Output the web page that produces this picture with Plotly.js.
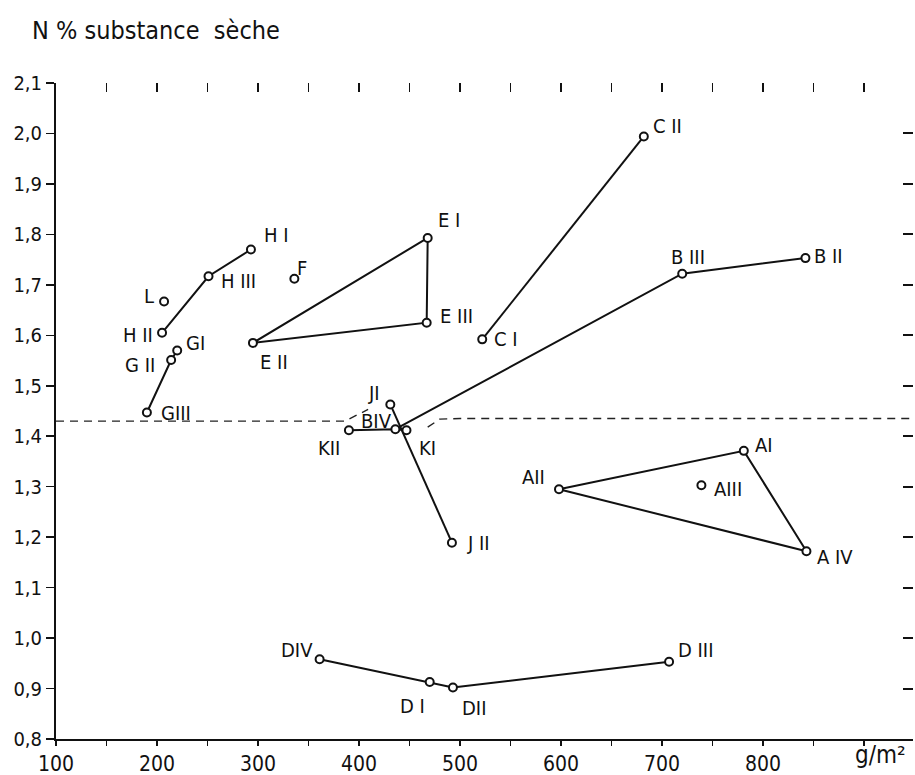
<!DOCTYPE html>
<html>
<head>
<meta charset="utf-8">
<script src="https://cdn.plot.ly/plotly-3.0.1.min.js"></script>
<style>html,body{margin:0;padding:0;background:#fff;}#chart{width:915px;height:775px;}</style>
</head>
<body>
<div id="chart"></div>
<script>
// ---- data ----
const pointNames  = ['AI','AII','AIII','AIV','BII','BIII','BIV','CI','CII','DI','DII','DIII','DIV','EI','EII','EIII','F','GI','GII','GIII','HI','HII','HIII','JI','JII','KI','KII','L'];
const pointLabels = ['AI','AII','AIII','A IV','B II','B III','BIV','C I','C II','D I','DII','D III','DIV','E I','E II','E III','F','GI','G II','GIII','H I','H II','H III','JI','J II','KI','KII','L'];
const pointX = [781, 598, 739, 843, 842, 720, 436, 522, 682, 470, 493, 707, 361, 468, 295, 467, 336, 220, 214, 190, 293, 205, 251, 431, 492, 447, 390, 207];
const pointY = [1.371, 1.295, 1.303, 1.172, 1.753, 1.722, 1.414, 1.592, 1.994, 0.913, 0.902, 0.953, 0.958, 1.793, 1.585, 1.625, 1.712, 1.570, 1.551, 1.447, 1.770, 1.605, 1.717, 1.463, 1.189, 1.412, 1.412, 1.667];

// connected series (by point name)
const pathA = ['AII','AI','AIV','AII'];
const pathB = ['BIV','BIII','BII'];
const pathC = ['CI','CII'];
const pathD = ['DIV','DI','DII','DIII'];
const pathE = ['EII','EI','EIII','EII'];
const pathG = ['GIII','GII','GI'];
const pathH = ['HII','HIII','HI'];
const pathJ = ['JI','JII'];
const pathK = ['KII','BIV','KI'];

// dashed reference line
const dashX = [100, 386, 409, null, 468, 480, 500, 948];
const dashY = [1.430, 1.430, 1.453, null, 1.418, 1.434, 1.435, 1.435];

// axis ticks
const xTickVals = [100,150,200,250,300,350,400,450,500,550,600,650,700,750,800,850,900];
const xTickText = ['100','','200','','300','','400','','500','','600','','700','','800','',''];
const yTickVals = [0.8,0.9,1.0,1.1,1.2,1.3,1.4,1.5,1.6,1.7,1.8,1.9,2.0,2.1];
const yTickText = ['0,8','0,9','1,0','1,1','1,2','1,3','1,4','1,5','1,6','1,7','1,8','1,9','2,0','2,1'];
const topTickVals = [150,200,250,300,350,400,450,500,550,600,650,700,750,800,850,900];
const rightTickVals = [0.9,1.0,1.1,1.2,1.3,1.4,1.5,1.6,1.7,1.8,1.9,2.0];

// ---- styling (label offsets in pixels, [dx, dy up]) ----
const labelOffsets = [
  [20,6],[-25,12],[27,-4],[29,-6],[23,2],[6,17],[-19,8],[24,0],[24,10],
  [-17,-24],[21,-20],[26,12],[-23,9],[21,18],[21,-19],[30,7],[8,11],
  [18,7],[-31,-5],[29,0],[26,15],[-24,-2],[30,-5],[-16,11],[27,0],[21,-18],[-20,-18],[-15,6]
];

const FONT = '"DejaVu Sans Condensed", "Liberation Sans Narrow", "DejaVu Sans", sans-serif';
const idx = n => pointNames.indexOf(n);
const lineTrace = path => ({
  x: path.map(n => pointX[idx(n)]),
  y: path.map(n => pointY[idx(n)]),
  mode: 'lines', type: 'scatter', hoverinfo: 'skip',
  line: {color: '#111', width: 2}
});

const traces = [
  {x: dashX, y: dashY, mode: 'lines', type: 'scatter', connectgaps: false,
   line: {color: '#222', width: 1.4, dash: '8px,6px'}, hoverinfo: 'skip'},
  ...[pathA, pathB, pathC, pathD, pathE, pathG, pathH, pathJ, pathK].map(lineTrace),
  {x: pointX, y: pointY, text: pointLabels, mode: 'markers', type: 'scatter',
   marker: {symbol: 'circle', size: 8, color: '#fff', line: {color: '#111', width: 2}}},
  {x: [], y: [], xaxis: 'x2', yaxis: 'y2', type: 'scatter', mode: 'markers'}
];

const annotations = pointNames.map((n, i) => ({
  x: pointX[i], y: pointY[i], text: pointLabels[i], showarrow: false,
  xshift: labelOffsets[i][0], yshift: labelOffsets[i][1],
  font: {family: FONT, size: 20, color: '#111'}
}));
annotations.push({
  xref: 'paper', yref: 'paper', x: 0.962, y: -0.024, xanchor: 'center', yanchor: 'middle',
  text: 'g/m²', showarrow: false, font: {family: FONT, size: 24, color: '#111'}
});

const XR = [100, 948.5], YR = [0.8, 2.1];
const layout = {
  width: 915, height: 775,
  margin: {l: 56, r: 2, t: 83, b: 36},
  paper_bgcolor: '#fff', plot_bgcolor: '#fff',
  showlegend: false,
  font: {family: FONT, color: '#111'},
  title: {text: 'N % substance  sèche', x: 0.035, xanchor: 'left', xref: 'container',
          y: 0.961, yanchor: 'middle', yref: 'container', font: {family: FONT, size: 25, color: '#111'}},
  xaxis: {range: XR, showgrid: false, zeroline: false, showline: true, linecolor: '#111', linewidth: 2,
          ticks: 'outside', ticklen: 5, tickwidth: 1.5, tickcolor: '#111',
          tickmode: 'array', tickvals: xTickVals, ticktext: xTickText,
          tickfont: {family: FONT, size: 21, color: '#111'}, fixedrange: true},
  yaxis: {range: YR, showgrid: false, zeroline: false, showline: true, linecolor: '#111', linewidth: 2,
          ticks: 'outside', ticklen: 8, tickwidth: 1.5, tickcolor: '#111',
          tickmode: 'array', tickvals: yTickVals, ticktext: yTickText,
          tickfont: {family: FONT, size: 20, color: '#111'}, fixedrange: true},
  xaxis2: {range: XR, overlaying: 'x', side: 'top', anchor: 'y2', showgrid: false, zeroline: false,
           showline: false, ticks: 'inside', ticklen: 9, tickwidth: 1.8, tickcolor: '#111',
           tickmode: 'array', tickvals: topTickVals, showticklabels: false, fixedrange: true},
  yaxis2: {range: YR, overlaying: 'y', side: 'right', anchor: 'x2', showgrid: false, zeroline: false,
           showline: false, ticks: 'inside', ticklen: 10, tickwidth: 2, tickcolor: '#111',
           tickmode: 'array', tickvals: rightTickVals, showticklabels: false, fixedrange: true},
  annotations: annotations
};

Plotly.newPlot('chart', traces, layout, {displayModeBar: false, staticPlot: true});
</script>
</body>
</html>
